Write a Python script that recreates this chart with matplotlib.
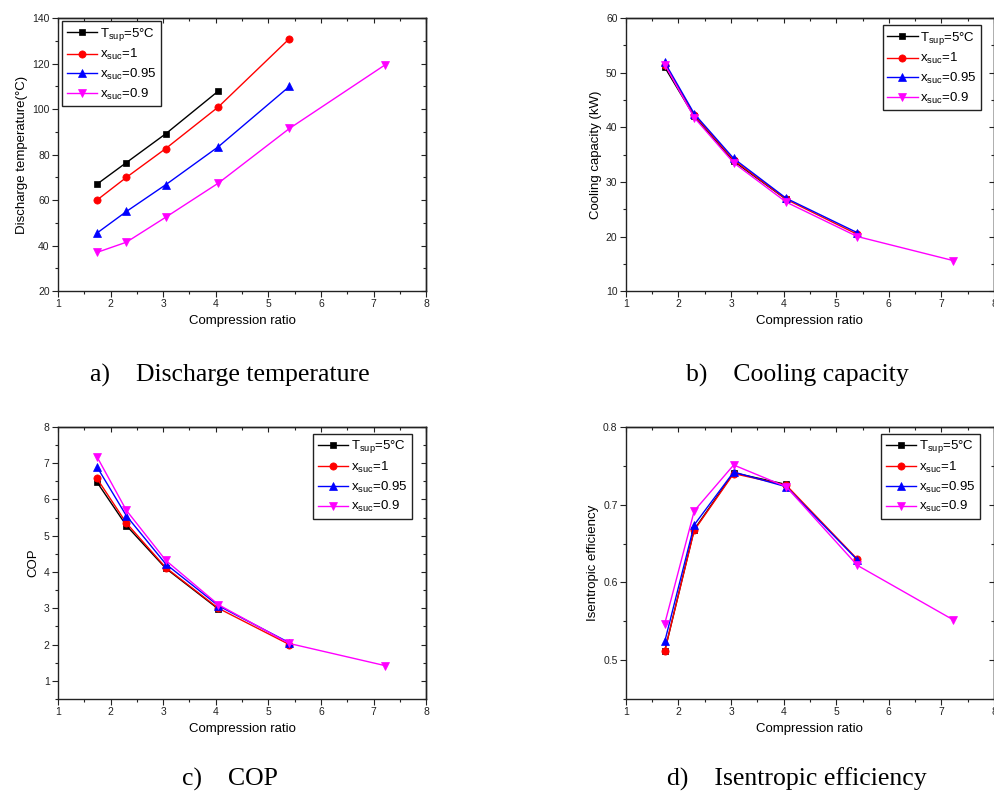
import matplotlib
matplotlib.use("Agg")
import matplotlib.pyplot as plt
from matplotlib.ticker import MultipleLocator

plt.rcParams['font.family'] = ['Liberation Sans', 'DejaVu Sans']
plt.rcParams['mathtext.fontset'] = 'custom'
plt.rcParams['mathtext.rm'] = 'Liberation Sans'
plt.rcParams['mathtext.it'] = 'Liberation Sans'

# ---- data ----
ratio = [1.74, 2.30, 3.05, 4.05, 5.40, 7.22]
labels = [r'T$_{\mathrm{sup}}$=5°C', r'x$_{\mathrm{suc}}$=1',
          r'x$_{\mathrm{suc}}$=0.95', r'x$_{\mathrm{suc}}$=0.9']
colors = ['black', '#ff0000', '#0000ff', '#ff00ff']
markers = ['s', 'o', '^', 'v']
msizes = [4.6, 5.2, 5.6, 5.6]

# a) discharge temperature
dt_tsup = [67.0, 76.5, 89.2, 108.0]
dt_x1 = [60.0, 70.0, 82.7, 101.0, 131.0]
dt_x095 = [45.5, 55.0, 66.8, 83.5, 110.0]
dt_x09 = [37.0, 41.5, 52.5, 67.5, 91.5, 119.5]

# b) cooling capacity
cc_tsup = [51.0, 42.0, 33.8, 26.8]
cc_x1 = [51.5, 42.3, 34.0, 26.8, 20.4]
cc_x095 = [51.9, 42.5, 34.3, 27.0, 20.7]
cc_x09 = [51.5, 41.8, 33.5, 26.3, 20.0, 15.6]

# c) COP
cop_tsup = [6.48, 5.28, 4.10, 2.98]
cop_x1 = [6.58, 5.35, 4.12, 3.00, 2.00]
cop_x095 = [6.90, 5.55, 4.22, 3.07, 2.05]
cop_x09 = [7.18, 5.70, 4.32, 3.10, 2.03, 1.42]

# d) isentropic efficiency
ie_tsup = [0.512, 0.668, 0.741, 0.726]
ie_x1 = [0.512, 0.667, 0.740, 0.725, 0.630]
ie_x095 = [0.524, 0.674, 0.742, 0.723, 0.629]
ie_x09 = [0.547, 0.692, 0.751, 0.723, 0.622, 0.552]

panels = [
    dict(series=[dt_tsup, dt_x1, dt_x095, dt_x09], ylim=(20, 140), major=20, minor=10,
         ylabel='Discharge temperature(°C)', caption='a)    Discharge temperature',
         legloc='upper left', anchor=(0.012, 0.99), pos=[0.0583, 0.632, 0.370, 0.345],
         fmt='{:.0f}', cap=(0.231, 0.517)),
    dict(series=[cc_tsup, cc_x1, cc_x095, cc_x09], ylim=(10, 60), major=10, minor=5,
         ylabel='Cooling capacity (kW)', caption='b)    Cooling capacity',
         legloc='upper right', anchor=(0.966, 0.975), pos=[0.629, 0.632, 0.370, 0.345],
         fmt='{:.0f}', cap=(0.801, 0.517)),
    dict(series=[cop_tsup, cop_x1, cop_x095, cop_x09], ylim=(0.5, 8), major=1, minor=0.5,
         ylabel='COP', caption='c)    COP',
         legloc='upper right', anchor=(0.962, 0.975), pos=[0.0583, 0.1163, 0.370, 0.344],
         fmt='{:.0f}', cap=(0.231, 0.007)),
    dict(series=[ie_tsup, ie_x1, ie_x095, ie_x09], ylim=(0.45, 0.8), major=0.1, minor=0.05,
         ylabel='Isentropic efficiency', caption='d)    Isentropic efficiency',
         legloc='upper right', anchor=(0.962, 0.975), pos=[0.629, 0.1163, 0.370, 0.344],
         fmt='{:.1f}', cap=(0.801, 0.007)),
]

fig = plt.figure(figsize=(9.95, 7.91), dpi=100)
edge = '#222222'

for p in panels:
    ax = fig.add_axes(p['pos'])
    for ys, lab, c, m, ms in zip(p['series'], labels, colors, markers, msizes):
        ax.plot(ratio[:len(ys)], ys, color=c, marker=m, markersize=ms, linewidth=1.0,
                label=lab, markeredgewidth=0.5)
    ax.set_xlim(1, 8)
    ax.set_ylim(*p['ylim'])
    ax.xaxis.set_major_locator(MultipleLocator(1))
    ax.xaxis.set_minor_locator(MultipleLocator(0.5))
    ax.yaxis.set_major_locator(MultipleLocator(p['major']))
    ax.yaxis.set_minor_locator(MultipleLocator(p['minor']))
    yt = [t for t in ax.get_yticks() if p['ylim'][0] - 1e-9 <= t <= p['ylim'][1] + 1e-9]
    ax.set_yticks(yt)
    ax.set_yticklabels([p['fmt'].format(t) for t in yt])
    ax.tick_params(axis='both', which='both', labelsize=7.5, colors=edge,
                   direction='out', top=False, right=False, pad=2)
    ax.tick_params(axis='both', which='major', length=4, width=0.8)
    ax.tick_params(axis='both', which='minor', length=2.5, width=0.8)
    # inward ticks on top and right
    axt = ax.secondary_xaxis('top')
    axt.xaxis.set_major_locator(MultipleLocator(1))
    axt.xaxis.set_minor_locator(MultipleLocator(0.5))
    axt.tick_params(which='both', direction='in', labeltop=False, colors=edge, width=0.8)
    axt.tick_params(which='major', length=3.5)
    axt.tick_params(which='minor', length=2.5)
    axr = ax.secondary_yaxis('right')
    axr.yaxis.set_major_locator(MultipleLocator(p['major']))
    axr.yaxis.set_minor_locator(MultipleLocator(p['minor']))
    axr.tick_params(which='both', direction='in', labelright=False, colors=edge, width=0.8)
    axr.tick_params(which='major', length=3.5)
    axr.tick_params(which='minor', length=2.5)
    for a in (ax, axt, axr):
        for s in a.spines.values():
            s.set_linewidth(1.0)
            s.set_color(edge)
    ax.set_xlabel('Compression ratio', fontsize=9.5, labelpad=4)
    ax.set_ylabel(p['ylabel'], fontsize=9.5, labelpad=3)
    leg = ax.legend(loc=p['legloc'], bbox_to_anchor=p['anchor'], fontsize=9.5,
                    frameon=True, fancybox=False, edgecolor=edge, handlelength=2.3,
                    handletextpad=0.2, borderpad=0.35, labelspacing=0.35,
                    borderaxespad=0.0, framealpha=1)
    leg.get_frame().set_linewidth(1.0)
    fig.text(p['cap'][0], p['cap'][1], p['caption'], ha='center', va='baseline',
             fontsize=18.5, family='Liberation Serif')

fig.savefig('out.png', dpi=100)
